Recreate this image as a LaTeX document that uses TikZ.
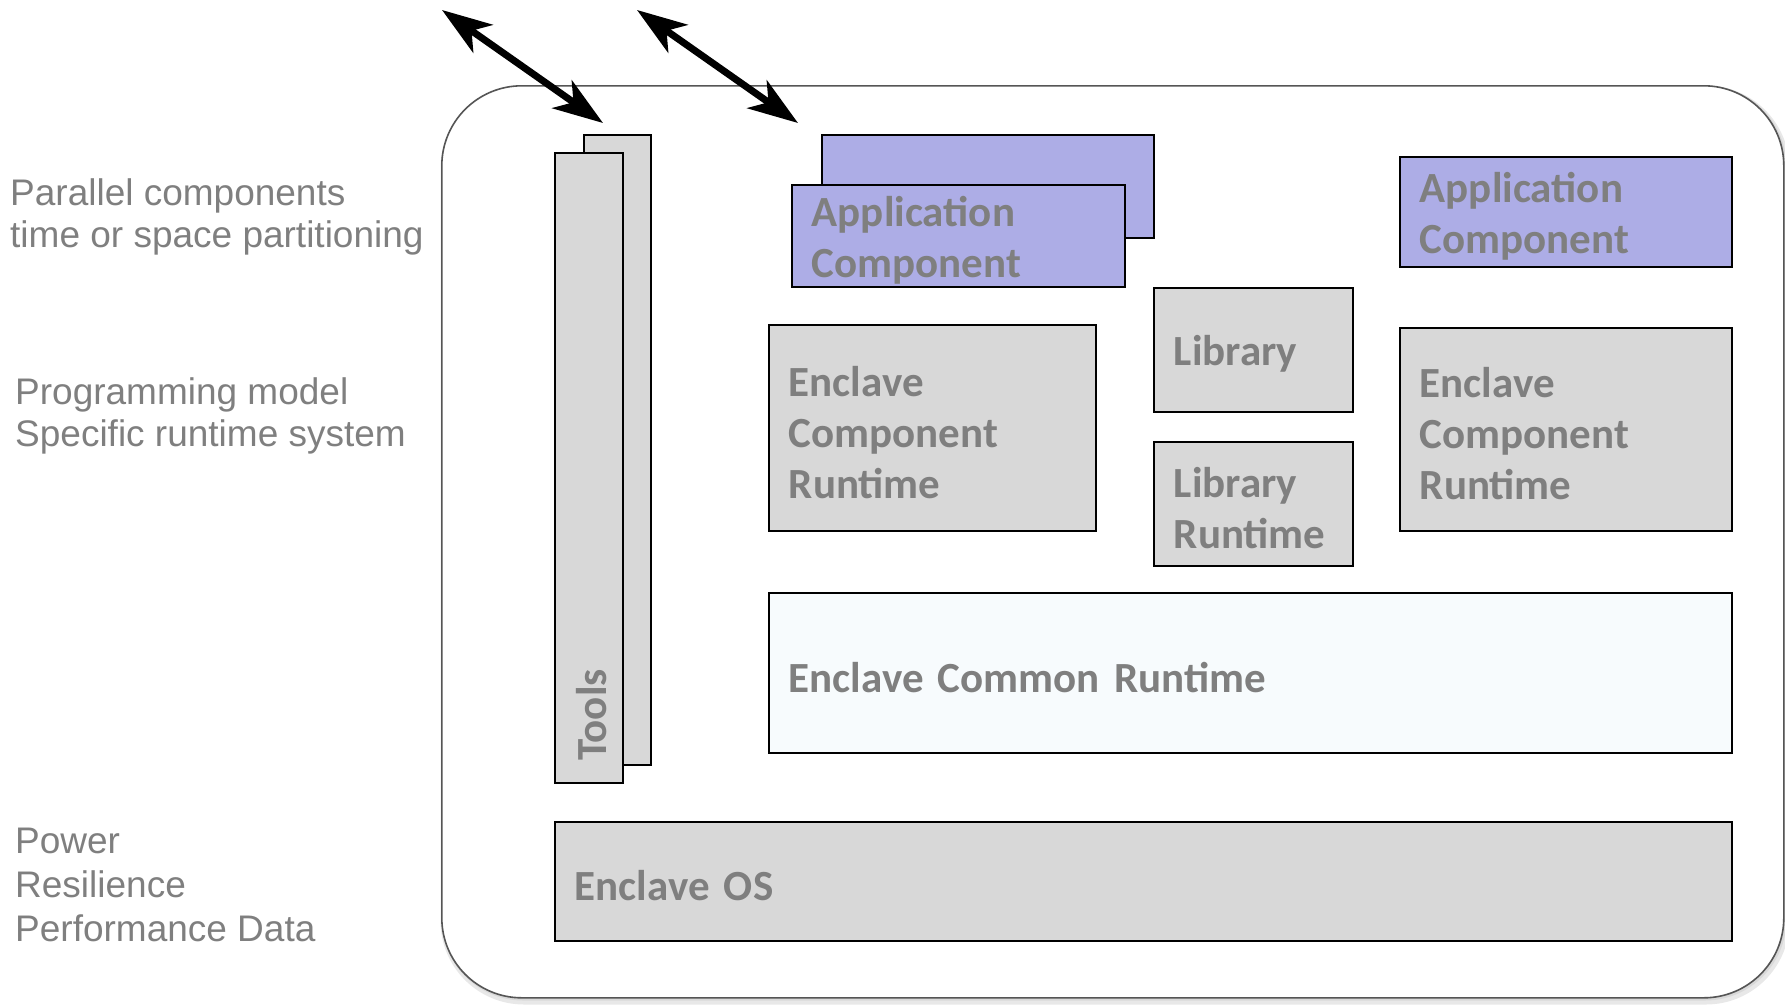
\documentclass[tikz,border=0pt]{standalone}
\usepackage{fontspec}
\setmainfont{Liberation Sans}
\newfontfamily\boxfontfam[WordSpace=0.6]{Carlito}
\usetikzlibrary{arrows.meta}
\definecolor{txtgray}{HTML}{7F7F7F}
\definecolor{boxgray}{HTML}{D8D8D8}
\definecolor{appblue}{HTML}{ADADE6}
\definecolor{commonfill}{HTML}{F7FBFD}
\definecolor{framegray}{HTML}{555555}
\begin{document}
\begin{tikzpicture}[x=1pt,y=-1pt,
  blk/.style={draw=black, line width=1.6pt, rectangle, inner xsep=20pt, inner ysep=0pt,
    align=left, anchor=north west, text=txtgray,
    font=\boxfontfam\bfseries\fontsize{43}{51}\selectfont},
  txtbox/.style={execute at begin node={\rule{0pt}{39pt}}},
  graybox/.style={blk, fill=boxgray},
  appbox/.style={blk, fill=appblue},
  sidetext/.style={anchor=west, align=left, inner sep=0pt, text=txtgray,
    font=\fontsize{37}{42}\selectfont},
  bigarrow/.style={line width=7pt, {Stealth[length=50pt,width=34pt,inset=14pt]}-{Stealth[length=50pt,width=34pt,inset=14pt]}}
]
\useasboundingbox (0,0) rectangle (1785,1004);
% outer frame with soft shadow
\draw[gray!18, line width=7pt, rounded corners=80pt] (444,89) rectangle (1786,1001);
\draw[gray!30, line width=3pt, rounded corners=80pt] (443,87) rectangle (1785,999);
\node[draw=framegray, fill=white, line width=1.6pt, rounded corners=80pt, anchor=north west,
  minimum width=1342pt, minimum height=912pt, inner sep=0pt] (frame) at (441,85) {};
% tools
\node[graybox, minimum width=67pt, minimum height=630pt] (toolsback) at (583,134) {};
\node[graybox, minimum width=68pt, minimum height=630pt] (toolsfront) at (554,152) {};
\node[rotate=90, inner sep=0pt, text=txtgray, font=\boxfontfam\bfseries\fontsize{43}{51}\selectfont] (tools) at (592,715) {Tools};
% application components
\node[appbox, minimum width=332pt, minimum height=103pt] (appback) at (821,134) {};
\node[appbox, txtbox, minimum width=333pt, minimum height=102pt, text width=293pt] (appfront) at (791,184) {Application\\Component};
\node[appbox, txtbox, minimum width=332pt, minimum height=110pt, text width=292pt] (appright) at (1399,156) {Application\\Component};
% runtimes
\node[graybox, txtbox, minimum width=327pt, minimum height=206pt, text width=287pt] (ecrL) at (768,324) {Enclave\\Component\\Runtime};
\node[graybox, txtbox, minimum width=199pt, minimum height=124pt, text width=159pt] (lib) at (1153,287) {Library};
\node[graybox, txtbox, minimum width=199pt, minimum height=124pt, text width=159pt] (libRT) at (1153,441) {Library\\Runtime};
\node[graybox, txtbox, minimum width=332pt, minimum height=203pt, text width=292pt] (ecrR) at (1399,327) {Enclave\\Component\\Runtime};
\node[blk, txtbox, fill=commonfill, minimum width=963pt, minimum height=160pt, text width=923pt] (common) at (768,592) {Enclave Common Runtime};
\node[graybox, txtbox, minimum width=1177pt, minimum height=119pt, text width=1137pt] (os) at (554,821) {Enclave OS};
% side texts
\node[sidetext] (par) at (10,217) {Parallel components\\time or space partitioning};
\node[sidetext] (prog) at (15,416) {Programming model\\Specific runtime system};
\node[sidetext, font=\fontsize{37}{44}\selectfont] (pow) at (15,885) {Power\\Resilience\\Performance Data};
% arrows
\coordinate (a1s) at (442,10);
\coordinate (a1e) at (603,123);
\coordinate (a2s) at (637,10);
\coordinate (a2e) at (798,123);
\draw[bigarrow] (a1s) -- (a1e);
\draw[bigarrow] (a2s) -- (a2e);
\end{tikzpicture}
\end{document}
